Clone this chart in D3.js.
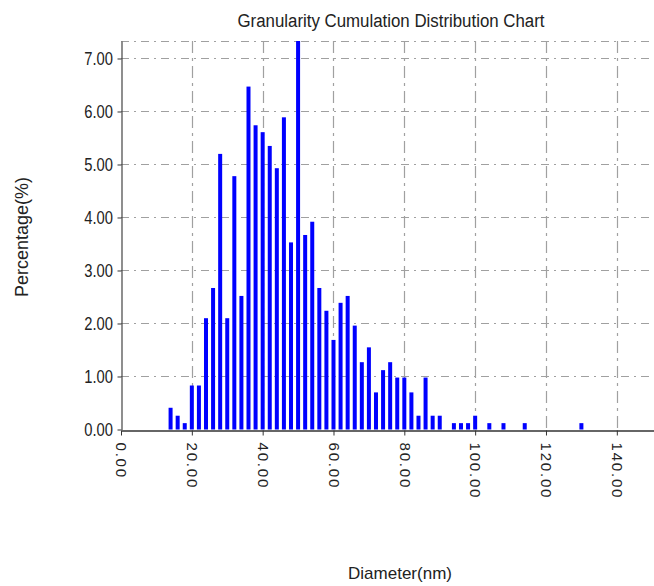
<!DOCTYPE html>
<html>
<head>
<meta charset="utf-8">
<script src="https://cdn.jsdelivr.net/npm/d3@7"></script>
<style>
  html, body { margin: 0; padding: 0; background: #fff; }
  svg { display: block; }
</style>
</head>
<body>
<script>
// ---- data ----
const title = "Granularity Cumulation Distribution  Chart";
const xTitle = "Diameter(nm)";
const yTitle = "Percentage(%)";
const diameters = [14,16,18,20,22,24,26,28,30,32,34,36,38,40,42,44,46,48,50,52,54,56,58,60,62,64,66,68,70,72,74,76,78,80,82,84,86,88,90,94,96,98,100,104,108,114,130];
const percentages = [0.41,0.26,0.12,0.83,0.83,2.10,2.67,5.20,2.10,4.78,2.52,6.47,5.74,5.61,5.35,4.93,5.89,3.53,7.33,3.67,3.92,2.67,2.24,1.69,2.39,2.52,1.96,1.27,1.55,0.70,1.12,1.27,0.98,0.98,0.70,0.26,0.98,0.26,0.26,0.12,0.12,0.12,0.26,0.12,0.12,0.12,0.12];
const xTicks = [0,20,40,60,80,100,120,140];
const yTicks = [0,1,2,3,4,5,6,7];
const xDomain = [0, 150.5];
const yDomain = [0, 7.33];

// ---- layout ----
const W = 654, H = 586;
const mLeft = 121, mRight = 654, mTop = 41, mBottom = 429.5;

const svg = d3.select("body").append("svg").attr("width", W).attr("height", H);

const x = d3.scaleLinear().domain(xDomain).range([mLeft, mRight]);
const y = d3.scaleLinear().domain(yDomain).range([mBottom, mTop]);

const gridColor = "#a0a0a0";

// horizontal grid + top frame
const hLines = yTicks.filter(t => t > 0).concat([yDomain[1]]);
svg.append("g").selectAll("line").data(hLines).join("line")
  .attr("x1", mLeft).attr("x2", mRight)
  .attr("y1", d => Math.round(y(d)) + 0.5).attr("y2", d => Math.round(y(d)) + 0.5)
  .attr("stroke", gridColor).attr("stroke-width", 1.2)
  .attr("stroke-dasharray", "8,5,2,5");

// vertical grid
svg.append("g").selectAll("line").data(xTicks.filter(t => t > 0)).join("line")
  .attr("x1", d => Math.round(x(d)) + 0.5).attr("x2", d => Math.round(x(d)) + 0.5)
  .attr("y1", mTop).attr("y2", mBottom)
  .attr("stroke", gridColor).attr("stroke-width", 1.2)
  .attr("stroke-dasharray", "12,5,3,5");

// bars
const barW = 4;
svg.append("g").selectAll("rect").data(diameters.map((d, i) => ({d, v: percentages[i]}))).join("rect")
  .attr("x", d => x(d.d) - barW / 2)
  .attr("width", barW)
  .attr("y", d => y(d.v))
  .attr("height", d => y(0) - y(d.v))
  .attr("fill", "#0000ff");

// x axis
const xAxis = svg.append("g").attr("transform", `translate(0,${Math.round(mBottom) + 0.5})`)
  .call(d3.axisBottom(x).tickValues(xTicks).tickFormat(d3.format(".2f")).tickSize(5).tickSizeOuter(0));
xAxis.select(".domain").attr("stroke", "#333").attr("stroke-width", 1.3);
xAxis.selectAll(".tick line").attr("stroke", "#333");
xAxis.selectAll(".tick text")
  .attr("x", 0).attr("y", 0).attr("dy", "0.35em")
  .attr("transform", "translate(0,12) rotate(90)")
  .attr("text-anchor", "start")
  .attr("fill", "#222")
  .style("font-family", "'Liberation Sans', Arial, sans-serif")
  .style("font-size", "15px")
  .style("letter-spacing", "1.8px");

// y axis
const yAxis = svg.append("g").attr("transform", `translate(${mLeft + 0.5},0)`)
  .call(d3.axisLeft(y).tickValues(yTicks).tickFormat(d3.format(".2f")).tickSize(4).tickSizeOuter(0));
yAxis.select(".domain").attr("stroke", "#444").attr("stroke-width", 1.2);
yAxis.selectAll(".tick line").attr("stroke", "#333");
yAxis.selectAll(".tick text")
  .attr("x", 0)
  .attr("transform", "translate(-8.5,0) scale(0.82,1)")
  .attr("fill", "#222")
  .style("font-family", "'Liberation Sans', Arial, sans-serif")
  .style("font-size", "18px");

// titles
svg.append("text").attr("x", 391).attr("y", 27).attr("text-anchor", "middle")
  .attr("textLength", 307).attr("lengthAdjust", "spacingAndGlyphs")
  .style("font-family", "'Liberation Sans', Arial, sans-serif")
  .style("font-size", "18px").attr("fill", "#222").text(title);

svg.append("text").attr("x", 400).attr("y", 579).attr("text-anchor", "middle")
  .style("font-family", "'Liberation Sans', Arial, sans-serif")
  .style("font-size", "17px").attr("fill", "#222").text(xTitle);

svg.append("text").attr("transform", "translate(28,237) rotate(-90)").attr("text-anchor", "middle")
  .style("font-family", "'Liberation Sans', Arial, sans-serif")
  .style("font-size", "18px").attr("fill", "#222").text(yTitle);
</script>
</body>
</html>
